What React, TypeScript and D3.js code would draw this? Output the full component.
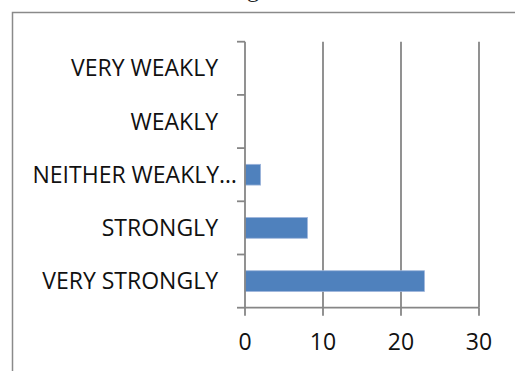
import React from "react";
import * as d3 from "d3";

// Survey responses, listed top to bottom as they appear on the chart
const categories = ["VERY WEAKLY", "WEAKLY", "NEITHER WEAKLY…", "STRONGLY", "VERY STRONGLY"];
const counts = [0, 0, 2, 8, 23];
const xTicks = [0, 10, 20, 30];

const W = 515;
const H = 371;
const FONT = "'Open Sans', sans-serif";
const BAR = "#4F81BD";
const GRID = "#868686";

export default function App() {
  const x = d3.scaleLinear().domain([0, 30]).range([245, 479]);
  const y = d3.scaleBand<string>().domain(categories).range([41.7, 307.7]).padding(0);
  const bw = y.bandwidth();
  const barH = bw * 0.39;
  const bounds = [...categories.map((c) => y(c)!), 307.7];

  return (
    <svg
      width={W}
      height={H}
      style={{ position: "absolute", left: 0, top: 0, background: "#fff" }}
      fontFamily={FONT}
    >
      {/* heading text just above the frame */}
      <text x={247} y={-3} fontFamily="'Liberation Serif', serif" fontSize={24} fill="#222">g</text>

      {/* chart frame */}
      <rect x={12.5} y={12.5} width={W} height={H} fill="none" stroke="#8a8a8a" strokeWidth={1.5} />

      {/* vertical gridlines */}
      {xTicks.filter((t) => t > 0).map((t) => (
        <line key={t} x1={x(t)} x2={x(t)} y1={41.7} y2={307.7} stroke={GRID} strokeWidth={1.8} />
      ))}

      {/* bars */}
      {categories.map((c, i) =>
        counts[i] > 0 ? (
          <rect
            key={c}
            x={x(0)}
            y={y(c)! + (bw - barH) / 2}
            width={x(counts[i]) - x(0)}
            height={barH}
            fill={BAR}
            stroke="#9db5db"
            strokeWidth={0.8}
          />
        ) : null
      )}

      {/* category axis */}
      <line x1={x(0)} x2={x(0)} y1={41.7} y2={307.7} stroke={GRID} strokeWidth={1.8} />
      {bounds.map((b, i) => (
        <line key={i} x1={x(0) - 8} x2={x(0)} y1={b} y2={b} stroke={GRID} strokeWidth={1.8} />
      ))}

      {/* value axis */}
      <line x1={x(0)} x2={x(30)} y1={307.7} y2={307.7} stroke={GRID} strokeWidth={1.8} />
      {xTicks.map((t) => (
        <line key={t} x1={x(t)} x2={x(t)} y1={307.7} y2={315.7} stroke={GRID} strokeWidth={1.8} />
      ))}

      {/* category labels */}
      {categories.map((c) => (
        <text
          key={c}
          x={c.endsWith("…") ? x(0) - 8 : x(0) - 27}
          y={y(c)! + bw / 2}
          dy="0.35em"
          textAnchor="end"
          fontSize={23}
          fill="#111"
        >
          {c}
        </text>
      ))}

      {/* value tick labels */}
      {xTicks.map((t) => (
        <text key={t} x={x(t)} y={350} textAnchor="middle" fontSize={23} fill="#111">
          {t}
        </text>
      ))}
    </svg>
  );
}
